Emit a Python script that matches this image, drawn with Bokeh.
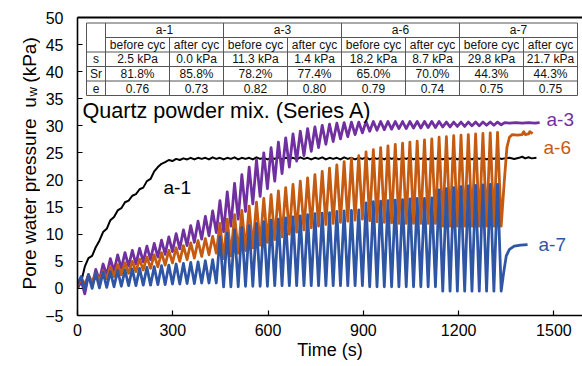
import math
from bokeh.plotting import figure
from bokeh.layouts import row
from bokeh.models import Range1d, FixedTicker, LinearAxis
from bokeh.core.properties import value
from bokeh.embed import file_html
from bokeh.resources import INLINE

FONT = "Liberation Sans"

# ---------------- data ----------------
x_ticks = [0, 300, 600, 900, 1200, 1500]
y_ticks = [-5, 0, 5, 10, 15, 20, 25, 30, 35, 40, 45, 50]

# times of the extreme points of the loading cycles (s)
t_cyc = [0, 11.5, 23, 34.5, 46, 57.5, 69, 80.5, 92, 103.5,
         115, 126.5, 138, 149.5, 161, 172.5, 184, 195.5, 207, 218.5,
         230, 241.5, 253, 264.5, 276, 287.5, 299, 310.5, 322, 333.5,
         345, 356.5, 368, 379.5, 391, 402.5, 414, 425.5, 437, 448.5,
         460, 471.5, 483, 494.5, 506, 517.5, 529, 540.5, 552, 563.5,
         575, 586.5, 598, 609.5, 621, 632.5, 644, 655.5, 667, 678.5,
         690, 701.5, 713, 724.5, 736, 747.5, 759, 770.5, 782, 793.5,
         805, 816.5, 828, 839.5, 851, 862.5, 874, 885.5, 897, 908.5,
         920, 931.5, 943, 954.5, 966, 977.5, 989, 1000.5, 1012, 1023.5,
         1035, 1046.5, 1058, 1069.5, 1081, 1092.5, 1104, 1115.5, 1127, 1138.5,
         1150, 1161.5, 1173, 1184.5, 1196, 1207.5, 1219, 1230.5, 1242, 1253.5,
         1265, 1276.5, 1288, 1299.5, 1311, 1322.5, 1334]

u_a1 = [0.0, 1.2, 4.0, 5.6, 6.0, 7.6, 8.8, 10.4, 11.0, 12.6,
        13.2, 14.4, 14.8, 15.9, 16.2, 17.1, 17.4, 18.3, 18.6, 19.8,
        20.2, 21.6, 22.4, 23.0, 23.3, 23.7, 23.5, 23.9, 23.7, 24.0,
        23.8, 24.1, 23.8, 24.1, 23.9, 24.1, 23.8, 24.2, 23.9, 24.1,
        23.8, 24.1, 23.9, 24.2, 23.8, 24.1, 23.9, 24.1, 23.8, 24.2,
        23.9, 24.1, 23.8, 24.1, 23.9, 24.2, 23.8, 24.1, 23.9, 24.1,
        23.8, 24.2, 23.9, 24.1, 23.8, 24.1, 23.9, 24.2, 23.8, 24.1,
        23.9, 24.1, 23.8, 24.2, 23.9, 24.1, 23.8, 24.1, 23.9, 24.2,
        23.8, 24.1, 23.9, 24.1, 23.8, 24.2, 23.9, 24.1, 23.8, 24.1,
        23.9, 24.2, 23.8, 24.1, 23.9, 24.1, 23.8, 24.2, 23.9, 24.1,
        23.8, 24.1, 23.9, 24.2, 23.8, 24.1, 23.9, 24.1, 23.8, 24.2,
        23.9, 24.1, 23.8, 24.1, 23.9, 24.2, 23.9]
t_a1_end = [1345, 1360, 1375, 1390, 1400, 1410, 1420, 1430, 1445]
u_a1_end = [24.0, 24.1, 23.9, 24.1, 24.3, 24.0, 24.2, 24.0, 24.1]

u_a3 = [0.0, 1.5, -1.0, 2.5, 0.5, 3.5, 1.5, 4.5, 2.5, 5.5,
        3.2, 6.2, 3.7, 6.6, 4.1, 7.0, 4.5, 7.4, 4.9, 7.8,
        5.3, 8.3, 5.8, 8.9, 6.3, 9.5, 6.8, 10.1, 7.3, 10.8,
        7.9, 11.6, 8.5, 12.4, 9.1, 13.3, 9.7, 14.3, 10.3, 16.2,
        10.5, 17.8, 11.5, 19.4, 12.8, 21.0, 14.2, 22.4, 15.6, 23.7,
        17.0, 25.0, 18.4, 26.0, 19.8, 27.0, 21.2, 27.8, 22.4, 28.5,
        23.5, 29.0, 24.5, 29.5, 25.3, 29.8, 26.0, 30.1, 26.6, 30.3,
        27.1, 30.5, 27.6, 30.6, 28.0, 30.7, 28.4, 30.7, 28.7, 30.8,
        29.0, 30.8, 29.2, 30.8, 29.3, 30.8, 29.4, 30.8, 29.5, 30.8,
        29.5, 30.8, 29.6, 30.8, 29.6, 30.8, 29.7, 30.8, 29.7, 30.8,
        29.8, 30.7, 29.8, 30.7, 29.9, 30.7, 29.9, 30.7, 30.0, 30.7,
        30.0, 30.7, 30.1, 30.7, 30.1, 30.7, 30.2]
t_a3_end = [1345, 1360, 1380, 1400, 1420, 1440, 1455]
u_a3_end = [30.6, 30.5, 30.6, 30.5, 30.6, 30.5, 30.6]

u_a6 = [0.5, 1.8, 0.8, 2.4, 1.2, 2.8, 1.5, 3.2, 1.8, 4.0,
        2.2, 4.4, 2.5, 4.7, 2.8, 5.0, 3.1, 5.4, 3.4, 5.8,
        3.7, 6.2, 4.0, 6.6, 4.3, 7.0, 4.7, 7.5, 5.0, 7.9,
        5.3, 8.4, 5.6, 8.8, 5.9, 9.2, 6.2, 9.6, 6.5, 12.0,
        5.5, 12.8, 6.0, 13.6, 6.5, 14.4, 7.0, 15.2, 7.5, 15.9,
        8.0, 16.6, 8.5, 17.3, 9.0, 18.0, 9.5, 18.6, 10.0, 19.2,
        10.4, 19.8, 10.8, 20.4, 11.2, 21.0, 11.5, 21.6, 11.8, 22.2,
        12.0, 22.8, 12.2, 23.4, 12.4, 24.0, 12.6, 24.5, 12.8, 25.2,
        12.5, 25.6, 12.3, 26.0, 12.2, 26.3, 12.1, 26.6, 12.0, 26.8,
        12.0, 27.0, 12.0, 27.2, 12.0, 27.4, 12.0, 27.6, 12.0, 27.9,
        11.5, 28.0, 11.5, 28.2, 11.5, 28.3, 11.5, 28.4, 11.5, 28.5,
        11.5, 28.6, 11.5, 28.7, 11.5, 28.8, 11.5]
t_a6_end = [1344, 1352, 1360, 1369, 1385, 1400, 1405, 1410, 1420, 1424, 1433]
u_a6_end = [20.0, 26.0, 27.9, 28.4, 28.3, 28.4, 28.9, 28.4, 28.5, 28.9, 28.6]

u_a7 = [0.8, 2.2, -0.2, 2.6, 0.0, 2.8, 0.1, 3.0, 0.2, 3.1,
        0.3, 3.3, 0.4, 3.4, 0.5, 3.6, 0.5, 3.7, 0.6, 3.9,
        0.6, 4.0, 0.7, 4.2, 0.7, 4.3, 0.8, 4.5, 0.8, 4.6,
        0.9, 4.8, 0.9, 4.9, 1.0, 5.1, 1.0, 5.3, 1.0, 9.5,
        0.3, 10.2, 0.3, 10.8, 0.3, 11.2, 0.4, 11.6, 0.4, 12.0,
        0.4, 12.3, 0.4, 12.6, 0.5, 12.8, 0.5, 13.0, 0.5, 13.2,
        0.5, 13.4, 0.5, 13.6, 0.5, 13.8, 0.5, 13.9, 0.5, 14.0,
        0.5, 14.2, 0.5, 14.3, 0.5, 14.4, 0.5, 14.5, 0.5, 15.8,
        0.3, 16.0, 0.3, 16.1, 0.3, 16.2, 0.3, 16.3, 0.3, 16.4,
        0.3, 16.5, 0.3, 16.6, 0.3, 16.6, 0.3, 16.7, 0.3, 18.2,
        -0.5, 18.4, -0.5, 18.6, -0.5, 18.8, -0.5, 18.9, -0.5, 19.0,
        -0.5, 19.1, -0.5, 19.2, -0.5, 19.2, -0.5]
t_a7_end = [1342, 1350, 1360, 1375, 1395, 1417]
u_a7_end = [3.0, 6.0, 7.2, 7.8, 8.0, 8.1]

# table contents
specimens = ["a-1", "a-3", "a-6", "a-7"]
phase_names = ["before cyc", "after cyc"]
row_names = ["s", "Sr", "e"]
s_vals = ["2.5 kPa", "0.0 kPa", "11.3 kPa", "1.4 kPa", "18.2 kPa", "8.7 kPa", "29.8 kPa", "21.7 kPa"]
sr_vals = ["81.8%", "85.8%", "78.2%", "77.4%", "65.0%", "70.0%", "44.3%", "44.3%"]
e_vals = ["0.76", "0.73", "0.82", "0.80", "0.79", "0.74", "0.75", "0.75"]

# ---------------- layout (page pixels) ----------------
PAGE_W, PAGE_H = 582, 366
LAB_W = 40                              # strip holding the y-axis title
L, R, T, B = 77, 582, 17, 315           # plot frame edges on the page
X0, X1, Y0, Y1 = 0, 1590, -5, 50

def dx(px):
    return X0 + (px - L) / (R - L) * (X1 - X0)

def dy(py):
    return Y1 - (py - T) / (B - T) * (Y1 - Y0)

C_A1, C_A3, C_A6, C_A7 = "black", "#7030A0", "#C55A11", "#2F55A5"

p = figure(width=PAGE_W - LAB_W, height=PAGE_H, output_backend="svg", toolbar_location=None,
           x_range=Range1d(X0, X1), y_range=Range1d(Y0, Y1),
           min_border_left=L - LAB_W, min_border_right=0,
           min_border_top=T, min_border_bottom=PAGE_H - B)
p.grid.visible = False
p.outline_line_color = None
p.background_fill_color = "white"
p.border_fill_color = "white"

for ax in (p.xaxis[0], p.yaxis[0]):
    ax.axis_line_color = "black"
    ax.axis_line_width = 1.6
    ax.major_tick_line_color = "black"
    ax.major_tick_line_width = 1.2
    ax.major_tick_in = 5
    ax.major_tick_out = 0
    ax.minor_tick_line_color = None
    ax.major_label_text_font = FONT
    ax.major_label_text_font_size = "16px"
    ax.major_label_text_color = "black"
p.xaxis.ticker = FixedTicker(ticks=x_ticks)
p.yaxis.ticker = FixedTicker(ticks=y_ticks)
p.xaxis.major_label_standoff = 8
p.yaxis.major_label_standoff = 14
p.xaxis.axis_label = "Time (s)"
p.xaxis.axis_label_text_font = FONT
p.xaxis.axis_label_text_font_size = "18px"
p.xaxis.axis_label_text_font_style = "normal"
p.xaxis.axis_label_text_color = "black"
p.xaxis.axis_label_standoff = 1

top = LinearAxis(ticker=FixedTicker(ticks=[]), axis_line_color="black", axis_line_width=2,
                 major_tick_line_color=None, minor_tick_line_color=None)
p.add_layout(top, "above")

# ---------------- curves ----------------
lw = 2.8
p.line(t_cyc + t_a1_end, u_a1 + u_a1_end, line_color=C_A1, line_width=2.0, line_join="round")
p.line(t_cyc + t_a3_end, u_a3 + u_a3_end, line_color=C_A3, line_width=lw, line_join="round")
p.line(t_cyc + t_a6_end, u_a6 + u_a6_end, line_color=C_A6, line_width=lw, line_join="round")
p.line(t_cyc + t_a7_end, u_a7 + u_a7_end, line_color=C_A7, line_width=lw, line_join="round")

# curve labels
p.text(x=[dx(163), dx(546), dx(543), dx(538)], y=[dy(187), dy(119), dy(147), dy(244)],
       text=specimens, text_color=[C_A1, C_A3, C_A6, C_A7],
       text_font=value(FONT), text_font_size="19px", text_align="left", text_baseline="middle")

p.text(x=[dx(82)], y=[dy(110)], text=["Quartz powder mix. (Series A)"], text_color="black",
       text_font=value(FONT), text_font_size="21.6px", text_align="left", text_baseline="middle")

# ---------------- table ----------------
tab_l, col0_r = 86, 105
w_before, w_after = 64, 54
row_top, row_h = 22.5, 14.5
edges = [tab_l, col0_r]
for _ in specimens:
    edges.append(edges[-1] + w_before)
    edges.append(edges[-1] + w_after)
rows = [row_top + i * row_h for i in range(6)]
tab_r = edges[-1]

sx0, sy0, sx1, sy1 = [], [], [], []
def seg(a, b, c, d):
    sx0.append(dx(a)); sy0.append(dy(b)); sx1.append(dx(c)); sy1.append(dy(d))

seg(tab_l, rows[0], tab_r, rows[0])
seg(col0_r, rows[1], tab_r, rows[1])
for r in rows[2:]:
    seg(tab_l, r, tab_r, r)
seg(tab_l, rows[0], tab_l, rows[5])
for i, e in enumerate(edges[1:]):
    if i % 2 == 0:
        seg(e, rows[0], e, rows[5])
    else:
        seg(e, rows[1], e, rows[5])
p.segment(x0=sx0, y0=sy0, x1=sx1, y1=sy1, line_color="#555555", line_width=1)

tx, ty, tt = [], [], []
def cell(text, xa, xb, ra, rb):
    tx.append(dx((xa + xb) / 2)); ty.append(dy((ra + rb) / 2)); tt.append(text)

for g, name in enumerate(specimens):
    cell(name, edges[1 + 2 * g], edges[3 + 2 * g], rows[0], rows[1])
    for k in range(2):
        cell(phase_names[k], edges[1 + 2 * g + k], edges[2 + 2 * g + k], rows[1], rows[2])
for r, (rname, vals) in enumerate(zip(row_names, [s_vals, sr_vals, e_vals])):
    cell(rname, tab_l, col0_r, rows[2 + r], rows[3 + r])
    for c, v in enumerate(vals):
        cell(v, edges[1 + c], edges[2 + c], rows[2 + r], rows[3 + r])
p.text(x=tx, y=ty, text=tt, text_color="#111111", text_font=value(FONT), text_font_size="12px",
       text_align="center", text_baseline="middle")

# ---------------- y-axis title strip (with subscript) ----------------
yl = figure(width=LAB_W, height=PAGE_H, output_backend="svg", toolbar_location=None,
            x_range=Range1d(0, LAB_W), y_range=Range1d(PAGE_H, 0),
            x_axis_type=None, y_axis_type=None,
            min_border_left=0, min_border_right=0, min_border_top=0, min_border_bottom=0)
yl.grid.visible = False
yl.outline_line_color = None
yl.background_fill_color = "white"
yl.border_fill_color = "white"
base_x = 29
yl.text(x=[base_x], y=[98], text=["Pore water pressure\u00a0 u"], angle=math.pi / 2,
        text_align="right", text_baseline="alphabetic", text_color="black",
        text_font=value(FONT), text_font_size="19px")
yl.text(x=[base_x + 3], y=[97], text=["w"], angle=math.pi / 2,
        text_align="left", text_baseline="alphabetic", text_color="black",
        text_font=value(FONT), text_font_size="13px")
yl.text(x=[base_x], y=[80], text=["(kPa)"], angle=math.pi / 2,
        text_align="left", text_baseline="alphabetic", text_color="black",
        text_font=value(FONT), text_font_size="19px")

layout = row(yl, p, spacing=0)
open("out.html", "w").write(file_html(layout, INLINE))
